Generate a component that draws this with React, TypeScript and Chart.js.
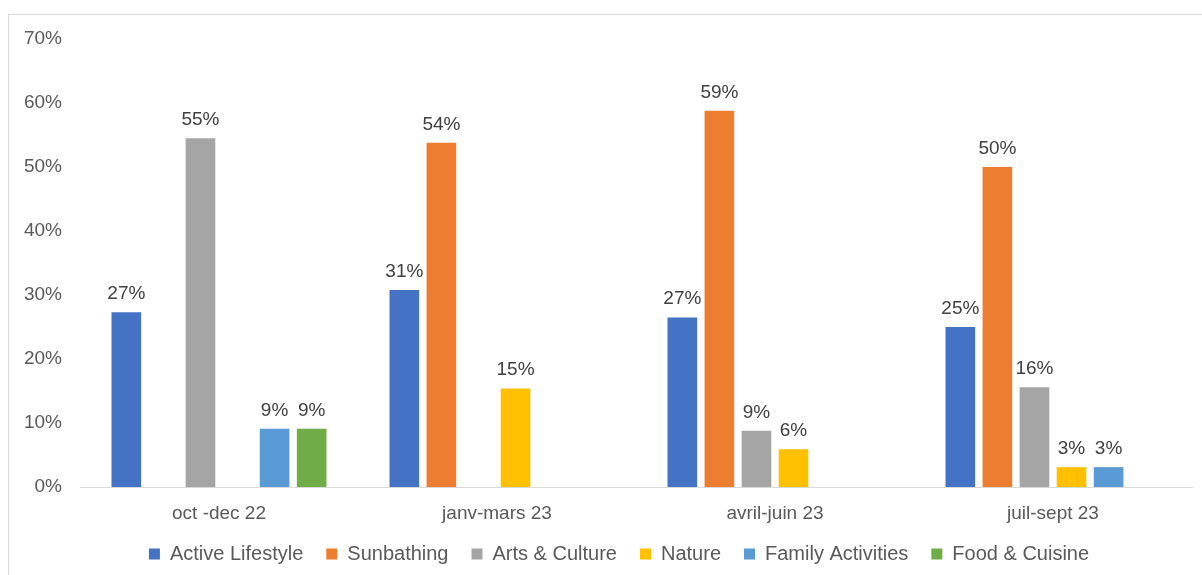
import React, { useEffect, useRef } from 'react';
import { Chart, registerables } from 'chart.js';

Chart.register(...registerables);

const categories = ['oct -dec 22', 'janv-mars 23', 'avril-juin 23', 'juil-sept 23'];
const seriesNames = ['Active Lifestyle', 'Sunbathing', 'Arts & Culture', 'Nature', 'Family Activities', 'Food & Cuisine'];
const activeLifestyle = [27.3, 30.8, 26.5, 25.0];
const sunbathing = [null, 53.8, 58.8, 50.0];
const artsCulture = [54.5, null, 8.8, 15.6];
const nature = [null, 15.4, 5.9, 3.1];
const familyActivities = [9.1, null, null, 3.1];
const foodCuisine = [9.1, null, null, null];
const seriesColors = ['#4472C4', '#ED7D31', '#A5A5A5', '#FFC000', '#5B9BD5', '#70AD47'];
const yMin = 0;
const yMax = 70;
const yStep = 10;

const FONT = "'Liberation Sans', Arial, sans-serif";

const dataLabels = {
  id: 'dataLabels',
  afterDatasetsDraw(chart: any) {
    const ctx = chart.ctx;
    ctx.save();
    ctx.font = `19px ${FONT}`;
    ctx.fillStyle = '#404040';
    ctx.textAlign = 'center';
    ctx.textBaseline = 'alphabetic';
    chart.data.datasets.forEach((ds: any, i: number) => {
      const meta = chart.getDatasetMeta(i);
      meta.data.forEach((el: any, j: number) => {
        const v = ds.data[j];
        if (v === null || v === undefined) return;
        ctx.fillText(Math.round(v) + '%', el.x, el.y - 13);
      });
    });
    ctx.restore();
  },
};

const legendFit = {
  id: 'legendFit',
  beforeInit(chart: any) {
    const legend = chart.legend;
    if (!legend) return;
    const orig = legend.fit;
    legend.fit = function () {
      orig.call(this);
      this.height = 20;
    };
  },
  afterLayout(chart: any) {
    const legend = chart.legend;
    if (!legend) return;
    legend.top = 521;
    legend.bottom = 575;
    legend.left += 46;
  },
};

export default function App() {
  const ref = useRef<HTMLCanvasElement | null>(null);
  useEffect(() => {
    if (!ref.current) return;
    const seriesData = [activeLifestyle, sunbathing, artsCulture, nature, familyActivities, foodCuisine];
    const chart = new Chart(ref.current, {
      type: 'bar',
      data: {
        labels: categories,
        datasets: seriesNames.map((name, i) => ({
          label: name,
          data: seriesData[i],
          backgroundColor: seriesColors[i],
          borderWidth: 0,
          categoryPercentage: 0.8,
          barPercentage: 0.8,
        })),
      },
      options: {
        animation: false,
        responsive: false,
        maintainAspectRatio: false,
        layout: { padding: { left: 0, right: 10, top: 39, bottom: 0 } },
        plugins: {
          legend: {
            position: 'bottom',
            labels: {
              boxWidth: 11,
              boxHeight: 11,
              padding: 23,
              color: '#595959',
              font: { family: FONT, size: 20 },
            },
          },
          tooltip: { enabled: false },
        },
        scales: {
          x: {
            grid: { display: false, drawTicks: false },
            border: { display: true, color: '#D9D9D9', width: 1 },
            ticks: { color: '#595959', font: { family: FONT, size: 19 }, padding: 15 },
            afterFit(scale: any) {
              scale.height = 68;
            },
          },
          y: {
            min: yMin,
            max: yMax,
            grid: { display: false, drawTicks: false },
            border: { display: false },
            ticks: {
              stepSize: yStep,
              color: '#595959',
              font: { family: FONT, size: 19 },
              padding: 18,
              callback: (v: any) => v + '%',
            },
            afterFit(scale: any) {
              scale.width = 80;
            },
          },
        },
      } as any,
      plugins: [dataLabels, legendFit],
    });
    return () => chart.destroy();
  }, []);

  return (
    <div style={{ position: 'absolute', left: 0, top: 0, width: 1202, height: 575, background: '#fff', overflow: 'hidden' }}>
      <div
        style={{
          position: 'absolute',
          left: 8,
          top: 14,
          width: 1210,
          height: 580,
          border: '1px solid #D9D9D9',
          boxSizing: 'border-box',
        }}
      />
      <canvas ref={ref} width={1202} height={575} style={{ position: 'absolute', left: 0, top: 0, width: 1202, height: 575 }} />
    </div>
  );
}
